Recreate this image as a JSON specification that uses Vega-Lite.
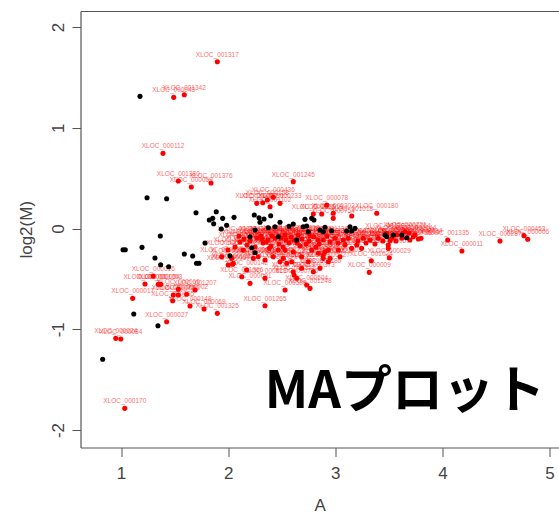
{
  "$schema": "https://vega.github.io/schema/vega-lite/v6.json",
  "width": 478.5,
  "height": 436.5,
  "autosize": "none",
  "padding": {"left": 80.5, "top": 11, "right": 0, "bottom": 67.5},
  "background": "#ffffff",
  "config": {
    "view": {"stroke": null},
    "font": "Liberation Sans",
    "axis": {
      "grid": false,
      "domainColor": "#555555",
      "tickColor": "#555555",
      "labelColor": "#444444",
      "titleColor": "#444444",
      "labelFont": "Liberation Sans",
      "titleFont": "Liberation Sans",
      "labelFontSize": 17,
      "titleFontSize": 17,
      "titleFontWeight": "normal"
    }
  },
  "datasets": {
    "pts": [
      {"A": 1.899, "M": 1.656, "g": "r", "id": "XLOC_001317"},
      {"A": 1.492, "M": 1.302, "g": "r", "id": "XLOC_000043"},
      {"A": 1.591, "M": 1.328, "g": "r", "id": "XLOC_001342"},
      {"A": 1.392, "M": 0.746, "g": "r", "id": "XLOC_000112"},
      {"A": 1.535, "M": 0.471, "g": "r", "id": "XLOC_001380"},
      {"A": 1.656, "M": 0.412, "g": "r", "id": "XLOC_000059"},
      {"A": 1.840, "M": 0.452, "g": "r", "id": "XLOC_001376"},
      {"A": 2.608, "M": 0.465, "g": "r", "id": "XLOC_001245"},
      {"A": 2.267, "M": 0.250, "g": "r", "id": "XLOC_000482"},
      {"A": 2.323, "M": 0.256, "g": "r", "id": "XLOC_000991"},
      {"A": 2.366, "M": 0.283, "g": "r", "id": "XLOC_000158"},
      {"A": 2.421, "M": 0.310, "g": "r", "id": "XLOC_000436"},
      {"A": 2.484, "M": 0.250, "g": "r", "id": "XLOC_000233"},
      {"A": 2.391, "M": 0.216, "g": "r", "id": "XLOC_001102"},
      {"A": 2.920, "M": 0.233, "g": "r", "id": "XLOC_000078"},
      {"A": 2.795, "M": 0.144, "g": "r", "id": "XLOC_000615"},
      {"A": 2.873, "M": 0.144, "g": "r", "id": "XLOC_001019"},
      {"A": 2.981, "M": 0.151, "g": "r", "id": "XLOC_000302"},
      {"A": 3.153, "M": 0.124, "g": "r", "id": "XLOC_001018"},
      {"A": 3.387, "M": 0.151, "g": "r", "id": "XLOC_000180"},
      {"A": 2.981, "M": 0.101, "g": "r", "id": "XLOC_000754"},
      {"A": 3.800, "M": -0.097, "g": "r", "id": "XLOC_000614"},
      {"A": 3.728, "M": -0.081, "g": "r", "id": "XLOC_000201"},
      {"A": 4.049, "M": -0.114, "g": "r", "id": "XLOC_001335"},
      {"A": 4.182, "M": -0.223, "g": "r", "id": "XLOC_000011"},
      {"A": 4.537, "M": -0.124, "g": "r", "id": "XLOC_000287"},
      {"A": 4.761, "M": -0.071, "g": "r", "id": "XLOC_000453"},
      {"A": 4.796, "M": -0.107, "g": "r", "id": "XLOC_000006"},
      {"A": 3.504, "M": -0.290, "g": "r", "id": "XLOC_000029"},
      {"A": 3.336, "M": -0.320, "g": "r", "id": "XLOC_001024"},
      {"A": 3.317, "M": -0.435, "g": "r", "id": "XLOC_000009"},
      {"A": 3.511, "M": -0.121, "g": "r", "id": "XLOC_000844"},
      {"A": 3.495, "M": -0.164, "g": "r", "id": "XLOC_000512"},
      {"A": 3.744, "M": -0.065, "g": "r", "id": "XLOC_001144"},
      {"A": 3.651, "M": -0.032, "g": "r", "id": "XLOC_000721"},
      {"A": 3.401, "M": -0.097, "g": "r", "id": "XLOC_000390"},
      {"A": 3.324, "M": -0.114, "g": "r", "id": "XLOC_001203"},
      {"A": 3.261, "M": -0.097, "g": "r", "id": "XLOC_000668"},
      {"A": 3.121, "M": -0.097, "g": "r", "id": "XLOC_000147"},
      {"A": 3.075, "M": -0.114, "g": "r", "id": "XLOC_000935"},
      {"A": 3.480, "M": -0.048, "g": "r", "id": "XLOC_001287"},
      {"A": 3.527, "M": -0.097, "g": "r", "id": "XLOC_000372"},
      {"A": 3.573, "M": -0.065, "g": "r", "id": "XLOC_000819"},
      {"A": 3.688, "M": -0.045, "g": "r", "id": "XLOC_000264"},
      {"A": 3.775, "M": -0.104, "g": "r", "id": "XLOC_001056"},
      {"A": 2.888, "M": -0.114, "g": "r", "id": "XLOC_000519"},
      {"A": 2.951, "M": -0.131, "g": "r", "id": "XLOC_000707"},
      {"A": 2.997, "M": -0.097, "g": "r", "id": "XLOC_001162"},
      {"A": 3.028, "M": -0.213, "g": "r", "id": "XLOC_000088"},
      {"A": 2.935, "M": -0.213, "g": "r", "id": "XLOC_000940"},
      {"A": 2.888, "M": -0.263, "g": "r", "id": "XLOC_000316"},
      {"A": 2.951, "M": -0.296, "g": "r", "id": "XLOC_001221"},
      {"A": 3.044, "M": -0.280, "g": "r", "id": "XLOC_000603"},
      {"A": 3.153, "M": -0.197, "g": "r", "id": "XLOC_000271"},
      {"A": 3.246, "M": -0.197, "g": "r", "id": "XLOC_001309"},
      {"A": 3.200, "M": -0.164, "g": "r", "id": "XLOC_000135"},
      {"A": 3.495, "M": -0.197, "g": "r", "id": "XLOC_000967"},
      {"A": 2.033, "M": -0.296, "g": "r", "id": "XLOC_000246"},
      {"A": 2.141, "M": -0.213, "g": "r", "id": "XLOC_000876"},
      {"A": 2.235, "M": -0.296, "g": "r", "id": "XLOC_001384"},
      {"A": 2.344, "M": -0.313, "g": "r", "id": "XLOC_000195"},
      {"A": 2.384, "M": -0.197, "g": "r", "id": "XLOC_000433"},
      {"A": 2.468, "M": -0.213, "g": "r", "id": "XLOC_001071"},
      {"A": 2.484, "M": -0.330, "g": "r", "id": "XLOC_000562"},
      {"A": 2.531, "M": -0.213, "g": "r", "id": "XLOC_000829"},
      {"A": 2.608, "M": -0.230, "g": "r", "id": "XLOC_000347"},
      {"A": 2.593, "M": -0.330, "g": "r", "id": "XLOC_001292"},
      {"A": 2.686, "M": -0.280, "g": "r", "id": "XLOC_000058"},
      {"A": 2.748, "M": -0.330, "g": "r", "id": "XLOC_000690"},
      {"A": 2.780, "M": -0.213, "g": "r", "id": "XLOC_001135"},
      {"A": 2.842, "M": -0.246, "g": "r", "id": "XLOC_000411"},
      {"A": 2.904, "M": -0.230, "g": "r", "id": "XLOC_000958"},
      {"A": 2.935, "M": -0.330, "g": "r", "id": "XLOC_000227"},
      {"A": 2.608, "M": -0.429, "g": "r", "id": "XLOC_000019"},
      {"A": 2.615, "M": -0.462, "g": "r", "id": "XLOC_001321"},
      {"A": 2.640, "M": -0.494, "g": "r", "id": "XLOC_000736"},
      {"A": 2.733, "M": -0.561, "g": "r", "id": "XLOC_000504"},
      {"A": 2.764, "M": -0.594, "g": "r", "id": "XLOC_001248"},
      {"A": 2.344, "M": -0.494, "g": "r", "id": "XLOC_000613"},
      {"A": 2.204, "M": -0.544, "g": "r", "id": "XLOC_000091"},
      {"A": 2.127, "M": -0.478, "g": "r", "id": "XLOC_001366"},
      {"A": 2.048, "M": -0.345, "g": "r", "id": "XLOC_000327"},
      {"A": 2.281, "M": -0.280, "g": "r", "id": "XLOC_000785"},
      {"A": 2.421, "M": -0.280, "g": "r", "id": "XLOC_001047"},
      {"A": 2.515, "M": -0.296, "g": "r", "id": "XLOC_000162"},
      {"A": 2.686, "M": -0.395, "g": "r", "id": "XLOC_000899"},
      {"A": 2.795, "M": -0.429, "g": "r", "id": "XLOC_000373"},
      {"A": 2.857, "M": -0.395, "g": "r", "id": "XLOC_001186"},
      {"A": 2.888, "M": -0.296, "g": "r", "id": "XLOC_000244"},
      {"A": 2.344, "M": -0.766, "g": "r", "id": "XLOC_001265"},
      {"A": 1.301, "M": -0.471, "g": "r", "id": "XLOC_000016"},
      {"A": 1.224, "M": -0.551, "g": "r", "id": "XLOC_000061"},
      {"A": 1.348, "M": -0.554, "g": "r", "id": "XLOC_000054"},
      {"A": 1.371, "M": -0.554, "g": "r", "id": "XLOC_001053"},
      {"A": 1.109, "M": -0.693, "g": "r", "id": "XLOC_000017"},
      {"A": 1.535, "M": -0.603, "g": "r", "id": "XLOC_000066"},
      {"A": 1.488, "M": -0.660, "g": "r", "id": "XLOC_000072"},
      {"A": 1.535, "M": -0.660, "g": "r", "id": "XLOC_000092"},
      {"A": 1.613, "M": -0.653, "g": "r", "id": "XLOC_000002"},
      {"A": 1.691, "M": -0.610, "g": "r", "id": "XLOC_001207"},
      {"A": 1.482, "M": -0.717, "g": "r", "id": "XLOC_000035"},
      {"A": 1.644, "M": -0.769, "g": "r", "id": "XLOC_000148"},
      {"A": 1.775, "M": -0.799, "g": "r", "id": "XLOC_000069"},
      {"A": 1.899, "M": -0.842, "g": "r", "id": "XLOC_001325"},
      {"A": 1.426, "M": -0.925, "g": "r", "id": "XLOC_000027"},
      {"A": 0.951, "M": -1.090, "g": "r", "id": "XLOC_000024"},
      {"A": 0.998, "M": -1.097, "g": "r", "id": "XLOC_000084"},
      {"A": 1.035, "M": -1.785, "g": "r", "id": "XLOC_000170"},
      {"A": 1.940, "M": -0.280, "g": "r", "id": "XLOC_000038"},
      {"A": 2.001, "M": -0.362, "g": "r", "id": "XLOC_000067"},
      {"A": 2.042, "M": -0.355, "g": "r", "id": "XLOC_001304"},
      {"A": 2.173, "M": -0.412, "g": "r", "id": "XLOC_000142"},
      {"A": 2.531, "M": -0.610, "g": "r", "id": "XLOC_000588"},
      {"A": 2.547, "M": -0.345, "g": "r", "id": "XLOC_001093"},
      {"A": 2.148, "M": -0.104, "g": "r", "id": "XLOC_000301"},
      {"A": 2.204, "M": -0.124, "g": "r", "id": "XLOC_000417"},
      {"A": 2.269, "M": -0.094, "g": "r", "id": "XLOC_000522"},
      {"A": 2.325, "M": -0.144, "g": "r", "id": "XLOC_000638"},
      {"A": 2.372, "M": -0.114, "g": "r", "id": "XLOC_000744"},
      {"A": 2.437, "M": -0.094, "g": "r", "id": "XLOC_000851"},
      {"A": 2.475, "M": -0.154, "g": "r", "id": "XLOC_000963"},
      {"A": 2.540, "M": -0.114, "g": "r", "id": "XLOC_001077"},
      {"A": 2.587, "M": -0.084, "g": "r", "id": "XLOC_001189"},
      {"A": 2.643, "M": -0.144, "g": "r", "id": "XLOC_001293"},
      {"A": 2.689, "M": -0.104, "g": "r", "id": "XLOC_000118"},
      {"A": 2.755, "M": -0.124, "g": "r", "id": "XLOC_000229"},
      {"A": 2.801, "M": -0.084, "g": "r", "id": "XLOC_000335"},
      {"A": 2.848, "M": -0.154, "g": "r", "id": "XLOC_000446"},
      {"A": 2.176, "M": -0.164, "g": "r", "id": "XLOC_000557"},
      {"A": 2.251, "M": -0.184, "g": "r", "id": "XLOC_000669"},
      {"A": 2.316, "M": -0.104, "g": "r", "id": "XLOC_000771"},
      {"A": 2.400, "M": -0.174, "g": "r", "id": "XLOC_000882"},
      {"A": 2.512, "M": -0.184, "g": "r", "id": "XLOC_000994"},
      {"A": 2.568, "M": -0.144, "g": "r", "id": "XLOC_001106"},
      {"A": 2.671, "M": -0.174, "g": "r", "id": "XLOC_001217"},
      {"A": 2.727, "M": -0.154, "g": "r", "id": "XLOC_001328"},
      {"A": 2.820, "M": -0.184, "g": "r", "id": "XLOC_000139"},
      {"A": 2.409, "M": -0.074, "g": "r", "id": "XLOC_000248"},
      {"A": 2.493, "M": -0.094, "g": "r", "id": "XLOC_000356"},
      {"A": 2.615, "M": -0.114, "g": "r", "id": "XLOC_000467"},
      {"A": 2.307, "M": -0.074, "g": "r", "id": "XLOC_000578"},
      {"A": 2.111, "M": -0.134, "g": "r", "id": "XLOC_000689"},
      {"A": 2.064, "M": -0.184, "g": "r", "id": "XLOC_000792"},
      {"A": 1.999, "M": -0.213, "g": "r", "id": "XLOC_000803"},
      {"A": 2.764, "M": -0.074, "g": "r", "id": "XLOC_000914"},
      {"A": 2.839, "M": -0.114, "g": "r", "id": "XLOC_001025"},
      {"A": 2.923, "M": -0.074, "g": "r", "id": "XLOC_001136"},
      {"A": 3.025, "M": -0.144, "g": "r", "id": "XLOC_001247"},
      {"A": 3.091, "M": -0.164, "g": "r", "id": "XLOC_001358"},
      {"A": 3.212, "M": -0.124, "g": "r", "id": "XLOC_000169"},
      {"A": 3.287, "M": -0.144, "g": "r", "id": "XLOC_000275"},
      {"A": 3.370, "M": -0.154, "g": "r", "id": "XLOC_000386"},
      {"A": 3.445, "M": -0.124, "g": "r", "id": "XLOC_000497"},
      {"A": 3.566, "M": -0.124, "g": "r", "id": "XLOC_000508"},
      {"A": 3.622, "M": -0.094, "g": "r", "id": "XLOC_000619"},
      {"A": 3.697, "M": -0.114, "g": "r", "id": "XLOC_000725"},
      {"A": 2.101, "M": -0.074, "g": "r", "id": "XLOC_000836"},
      {"A": 2.530, "M": -0.065, "g": "r", "id": "XLOC_000947"},
      {"A": 2.652, "M": -0.065, "g": "r", "id": "XLOC_001058"},
      {"A": 2.353, "M": -0.134, "g": "r", "id": "XLOC_001169"},
      {"A": 1.177, "M": 1.312, "g": "k"},
      {"A": 1.243, "M": 0.306, "g": "k"},
      {"A": 1.426, "M": 0.296, "g": "k"},
      {"A": 1.700, "M": 0.157, "g": "k"},
      {"A": 1.889, "M": 0.167, "g": "k"},
      {"A": 1.824, "M": 0.084, "g": "k"},
      {"A": 1.856, "M": 0.101, "g": "k"},
      {"A": 1.949, "M": 0.101, "g": "k"},
      {"A": 1.865, "M": 0.048, "g": "k"},
      {"A": 1.936, "M": -0.005, "g": "k"},
      {"A": 1.986, "M": 0.032, "g": "k"},
      {"A": 2.055, "M": 0.111, "g": "k"},
      {"A": 1.367, "M": -0.074, "g": "k"},
      {"A": 1.040, "M": -0.211, "g": "k"},
      {"A": 1.019, "M": -0.211, "g": "k"},
      {"A": 1.196, "M": -0.187, "g": "k"},
      {"A": 1.317, "M": -0.293, "g": "k"},
      {"A": 1.591, "M": -0.253, "g": "k"},
      {"A": 1.669, "M": -0.273, "g": "k"},
      {"A": 1.784, "M": -0.144, "g": "k"},
      {"A": 1.370, "M": -0.359, "g": "k"},
      {"A": 1.445, "M": -0.379, "g": "k"},
      {"A": 1.728, "M": -0.345, "g": "k"},
      {"A": 1.705, "M": -0.345, "g": "k"},
      {"A": 1.119, "M": -0.849, "g": "k"},
      {"A": 1.345, "M": -0.965, "g": "k"},
      {"A": 0.829, "M": -1.298, "g": "k"},
      {"A": 2.244, "M": 0.134, "g": "k"},
      {"A": 2.288, "M": 0.107, "g": "k"},
      {"A": 2.335, "M": 0.094, "g": "k"},
      {"A": 2.397, "M": 0.127, "g": "k"},
      {"A": 2.297, "M": 0.062, "g": "k"},
      {"A": 2.375, "M": 0.008, "g": "k"},
      {"A": 2.437, "M": 0.018, "g": "k"},
      {"A": 2.484, "M": 0.062, "g": "k"},
      {"A": 2.568, "M": 0.022, "g": "k"},
      {"A": 2.608, "M": 0.045, "g": "k"},
      {"A": 2.717, "M": 0.091, "g": "k"},
      {"A": 2.733, "M": 0.025, "g": "k"},
      {"A": 2.748, "M": -0.032, "g": "k"},
      {"A": 2.204, "M": -0.081, "g": "k"},
      {"A": 2.701, "M": 0.018, "g": "k"},
      {"A": 2.780, "M": 0.101, "g": "k"},
      {"A": 2.801, "M": 0.084, "g": "k"},
      {"A": 2.904, "M": 0.012, "g": "k"},
      {"A": 2.966, "M": -0.022, "g": "k"},
      {"A": 2.857, "M": -0.015, "g": "k"},
      {"A": 3.137, "M": 0.018, "g": "k"},
      {"A": 3.184, "M": 0.002, "g": "k"},
      {"A": 3.153, "M": -0.025, "g": "k"},
      {"A": 3.106, "M": -0.025, "g": "k"},
      {"A": 3.464, "M": -0.065, "g": "k"},
      {"A": 3.480, "M": -0.081, "g": "k"},
      {"A": 3.541, "M": -0.065, "g": "k"},
      {"A": 3.620, "M": -0.065, "g": "k"},
      {"A": 3.667, "M": -0.091, "g": "k"},
      {"A": 2.251, "M": -0.015, "g": "k"},
      {"A": 2.220, "M": -0.191, "g": "k"},
      {"A": 2.468, "M": -0.081, "g": "k"},
      {"A": 2.640, "M": -0.114, "g": "k"},
      {"A": 2.017, "M": -0.270, "g": "k"},
      {"A": 2.251, "M": -0.240, "g": "k"},
      {"A": 2.888, "M": -0.032, "g": "k"}
    ],
    "caption": [
      {"A": 3.65, "M": -1.785, "t": "MAプロット"}
    ]
  },
  "layer": [
    {
      "mark": {"type": "rule", "stroke": "#888888", "strokeWidth": 1, "strokeDash": [2, 7]},
      "encoding": {
        "y": {"datum": 0, "type": "quantitative", "scale": {"domain": [-2.1735, 2.159], "nice": false, "zero": false}, "axis": null}
      }
    },
    {
      "data": {"name": "pts"},
      "transform": [{"filter": "datum.g === 'r'"}],
      "mark": {"type": "text", "font": "Liberation Sans", "fontSize": 6.5, "fill": "#ff0000", "opacity": 0.6, "align": "center", "baseline": "alphabetic", "dy": -5},
      "encoding": {
        "x": {"field": "A", "type": "quantitative", "scale": {"domain": [0.622, 5.088], "nice": false, "zero": false}, "axis": null},
        "y": {"field": "M", "type": "quantitative", "axis": null},
        "text": {"field": "id"}
      }
    },
    {
      "data": {"name": "pts"},
      "mark": {"type": "circle", "size": 26, "opacity": 1, "strokeWidth": 0},
      "encoding": {
        "x": {"field": "A", "type": "quantitative", "title": "A",
          "axis": {"orient": "bottom", "values": [1, 2, 3, 4, 5], "tickSize": 9, "labelPadding": 9, "titlePadding": 16, "domainWidth": 1.2}},
        "y": {"field": "M", "type": "quantitative", "title": "log2(M)",
          "axis": {"values": [-2, -1, 0, 1, 2], "labelExpr": "'' + datum.value", "tickSize": 8.5, "labelAngle": 270, "labelAlign": "center", "labelBaseline": "bottom", "labelPadding": 5, "titlePadding": 14, "domainWidth": 1.2}},
        "color": {"field": "g", "type": "nominal", "scale": {"domain": ["r", "k"], "range": ["#ff0000", "#000000"]}, "legend": null}
      }
    },
    {
      "data": {"name": "caption"},
      "mark": {"type": "text", "font": "Noto Sans CJK JP", "fontWeight": "bold", "fontSize": 51, "fill": "#000000", "align": "center", "baseline": "alphabetic"},
      "encoding": {
        "x": {"field": "A", "type": "quantitative",
          "axis": {"orient": "top", "ticks": false, "labels": false, "title": null, "domainWidth": 1.2}},
        "y": {"field": "M", "type": "quantitative", "axis": null},
        "text": {"field": "t"}
      }
    }
  ],
  "resolve": {"axis": {"x": "independent", "y": "independent"}}
}
